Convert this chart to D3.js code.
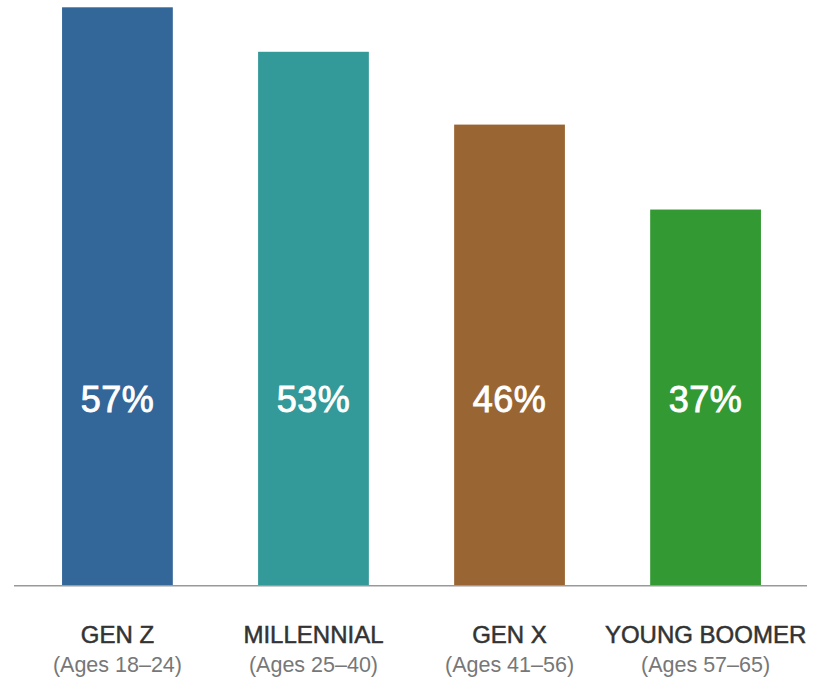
<!DOCTYPE html>
<html>
<head>
<meta charset="utf-8">
<script src="https://cdn.jsdelivr.net/npm/d3@7"></script>
<style>
  body { margin: 0; background: #fff; }
  text { font-family: "Liberation Sans", Arial, sans-serif; }
</style>
</head>
<body>
<svg></svg>
<script>
var generations = ["GEN Z", "MILLENNIAL", "GEN X", "YOUNG BOOMER"];
var ageRanges = ["(Ages 18–24)", "(Ages 25–40)", "(Ages 41–56)", "(Ages 57–65)"];
var shares = [57.2, 52.8, 45.6, 37.2];
var colors = ["#336699", "#339999", "#996633", "#339933"];

var width = 818;
var height = 683;
var baseline = 585.7;

var svg = d3.select("svg")
  .attr("width", width)
  .attr("height", height);

var x = d3.scaleBand()
  .domain(generations)
  .range([15, 808])
  .paddingInner(0.435)
  .paddingOuter(0.24);

var y = d3.scaleLinear()
  .domain([0, 57.2])
  .range([baseline, 7.3]);

var data = generations.map(function (g, i) {
  return { name: g, ages: ageRanges[i], value: shares[i], color: colors[i] };
});

svg.append("g")
  .selectAll("rect")
  .data(data).enter()
  .append("rect")
  .attr("x", function (d) { return x(d.name); })
  .attr("y", function (d) { return y(d.value); })
  .attr("width", x.bandwidth())
  .attr("height", function (d) { return baseline - y(d.value); })
  .attr("fill", function (d) { return d.color; });

// baseline
svg.append("line")
  .attr("x1", 14)
  .attr("x2", 807)
  .attr("y1", baseline)
  .attr("y2", baseline)
  .attr("stroke", "#999")
  .attr("stroke-width", 1.5);

// value labels inside bars
svg.append("g")
  .selectAll("text")
  .data(data).enter()
  .append("text")
  .attr("x", function (d) { return x(d.name) + x.bandwidth() / 2; })
  .attr("y", 412)
  .attr("text-anchor", "middle")
  .attr("fill", "#fff")
  .attr("stroke", "#fff")
  .attr("stroke-width", 0.9)
  .style("font-size", "36px")
  .style("letter-spacing", "0.5px")
  .text(function (d) { return Math.round(d.value) + "%"; });

// category labels
var labels = svg.append("g")
  .selectAll("g")
  .data(data).enter()
  .append("g")
  .attr("transform", function (d) {
    return "translate(" + (x(d.name) + x.bandwidth() / 2) + ",0)";
  });

labels.append("text")
  .attr("y", 643)
  .attr("text-anchor", "middle")
  .attr("fill", "#333")
  .attr("stroke", "#333")
  .attr("stroke-width", 0.5)
  .style("font-size", "24px")
  .text(function (d) { return d.name; });

labels.append("text")
  .attr("y", 672)
  .attr("text-anchor", "middle")
  .attr("fill", "#777")
  .style("font-size", "21.5px")
  .text(function (d) { return d.ages; });
</script>
</body>
</html>
